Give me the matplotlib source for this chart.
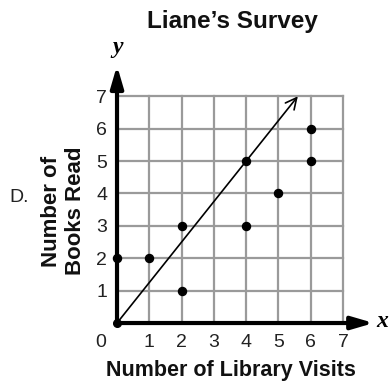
import matplotlib
matplotlib.use("Agg")
import matplotlib.pyplot as plt
from matplotlib.patches import FancyArrowPatch

# Survey results: library visits vs. books read
visits = [0, 1, 2, 2, 4, 4, 5, 6, 6]
books = [2, 2, 3, 1, 5, 3, 4, 6, 5]

# Trend line drawn from the origin with slope 5/4
trend_x = [0, 5.6]
trend_y = [0, 7]

tick_values = [1, 2, 3, 4, 5, 6, 7]

plt.rcParams['font.family'] = ['Liberation Sans', 'DejaVu Sans']

fig = plt.figure(figsize=(3.89, 3.85), dpi=100)
ax = fig.add_axes([0.3008, 0.161, 0.664, 0.673])
ax.set_xlim(0, 8)
ax.set_ylim(0, 8)
for s in ax.spines.values():
    s.set_visible(False)

# Grid
grid_color = '#9a9a9a'
for v in range(0, 8):
    ax.plot([v, v], [0, 7], color=grid_color, lw=1.6, zorder=1, clip_on=False)
    ax.plot([0, 7], [v, v], color=grid_color, lw=1.6, zorder=1, clip_on=False)

# Axes with arrowheads
for end in [(7.95, 0), (0, 7.95)]:
    ax.add_patch(FancyArrowPatch((0, 0), end,
                                 arrowstyle='-|>,head_length=13,head_width=3.8',
                                 mutation_scale=1, lw=3, color='black',
                                 shrinkA=0, shrinkB=0, zorder=3, clip_on=False))

# Trend line
ax.add_patch(FancyArrowPatch((trend_x[0], trend_y[0]), (trend_x[1], trend_y[1]),
                             arrowstyle='->,head_length=8,head_width=4',
                             mutation_scale=1, lw=1.2, color='black',
                             shrinkA=0, shrinkB=0, zorder=4, clip_on=False))
ax.plot([trend_x[0]], [trend_y[0]], 'o', color='black', ms=5.5, zorder=5, clip_on=False)

# Data points
ax.plot(visits, books, 'o', color='black', ms=5.8, zorder=5, clip_on=False)

# Ticks
ax.set_xticks(tick_values)
ax.set_yticks(tick_values)
ax.set_xticklabels([str(t) for t in tick_values])
ax.set_yticklabels([str(t) for t in tick_values])
ax.tick_params(axis='both', length=0, labelsize=14, colors='#222222')
ax.tick_params(axis='x', pad=8)
ax.tick_params(axis='y', pad=7)
ax.text(-0.52, -0.6, '0', fontsize=14, color='#222222', ha='center', va='center')

# Axis letters
ax.text(0.02, 8.5, 'y', fontsize=17, family='Liberation Serif', style='italic',
        weight='bold', ha='center', va='center')
ax.text(8.2, 0.05, 'x', fontsize=17, family='Liberation Serif', style='italic',
        weight='bold', ha='center', va='center')

# Labels
fig.text(0.597, 0.945, 'Liane\u2019s Survey', fontsize=17.5, weight='bold',
         ha='center', va='center', color='#111111')
fig.text(0.593, 0.038, 'Number of Library Visits', fontsize=15.5, weight='bold',
         ha='center', va='center', color='#111111')
fig.text(0.164, 0.452, 'Number of\nBooks Read', fontsize=16, weight='bold',
         rotation=90, ha='center', va='center', linespacing=1.2,
         multialignment='center', color='#111111')
fig.text(0.048, 0.486, 'D.', fontsize=14, ha='center', va='center', color='#222222')

fig.savefig('out.png', dpi=100)
